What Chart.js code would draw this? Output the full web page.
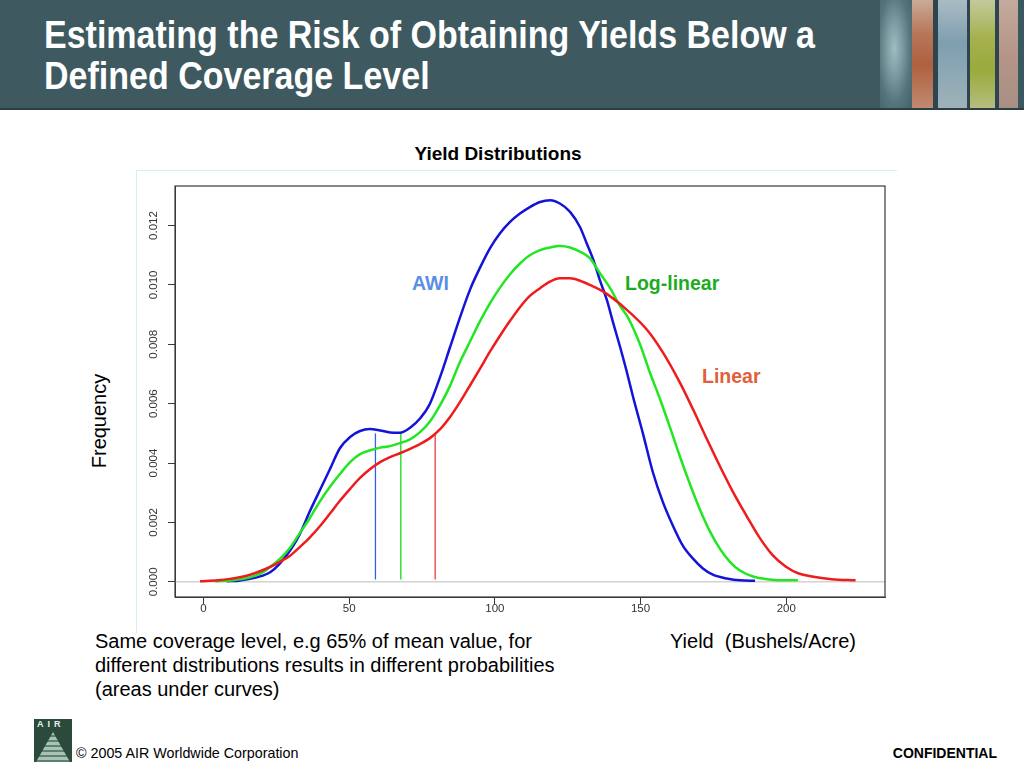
<!DOCTYPE html>
<html>
<head>
<meta charset="utf-8">
<script src="https://cdn.jsdelivr.net/npm/chart.js@4.4.1/dist/chart.umd.min.js"></script>
<style>
  html, body { margin: 0; padding: 0; background: #ffffff; }
  body { width: 1024px; height: 768px; position: relative; overflow: hidden; font-family: "Liberation Sans", Arial, Helvetica, sans-serif; }
  .abs { position: absolute; white-space: nowrap; }
  #header { position: absolute; left: 0; top: 0; width: 1024px; height: 108px; background: #3e5a60; border-bottom: 2px solid #2c3f44; }
  #title { left: 44px; top: 15px; color: #ffffff; font-family: "Liberation Sans", Arial, sans-serif; font-weight: bold; font-size: 38px; line-height: 41px; transform: scaleX(0.895); transform-origin: 0 0; }
  .stripe { position: absolute; top: 0; height: 108px; }
  #frame { position: absolute; left: 136px; top: 170px; width: 760px; height: 462px; border-top: 1px solid #d6eff3; border-left: 1px solid #d6eff3; }
  #chart { position: absolute; left: 0; top: 0; }
  .lbl { font-weight: bold; font-size: 19.5px; line-height: 22px; }
  .txt { font-size: 20px; line-height: 24px; color: #000; }
</style>
</head>
<body>
<div id="header">
  <div class="stripe" style="left:880px;width:32px;background:radial-gradient(ellipse at 45% 45%,#9fbcc0 0%,#7d9ea3 30%,#55757c 65%,#456068 100%);"></div>
  <div class="stripe" style="left:912px;width:21px;background:linear-gradient(180deg,#c9ab98 0%,#b8775a 30%,#b0603f 60%,#c08a70 100%);"></div>
  <div class="stripe" style="left:933px;width:5px;background:#2e4550;"></div>
  <div class="stripe" style="left:938px;width:29px;background:linear-gradient(180deg,#a9bcc4 0%,#7f9eae 40%,#8ea9b6 70%,#9fb2b8 100%);"></div>
  <div class="stripe" style="left:967px;width:3px;background:#2e4550;"></div>
  <div class="stripe" style="left:970px;width:25px;background:linear-gradient(180deg,#c3c99c 0%,#a5b14e 35%,#9aaa3c 65%,#b5bd7e 100%);"></div>
  <div class="stripe" style="left:995px;width:4px;background:#2e4550;"></div>
  <div class="stripe" style="left:999px;width:19px;background:linear-gradient(180deg,#c4aa9e 0%,#b59588 50%,#a88f84 100%);"></div>
  <div class="stripe" style="left:1018px;width:6px;background:#3a5860;"></div>
</div>
<div id="title" class="abs">Estimating the Risk of Obtaining Yields Below a<br>Defined Coverage Level</div>

<div id="frame"></div>
<div class="abs" style="left:0;width:996px;top:143px;text-align:center;font-weight:bold;font-size:19px;line-height:22px;">Yield Distributions</div>
<div class="abs" style="left:99px;top:421px;font-size:20px;line-height:22px;transform:translate(-50%,-50%) rotate(-90deg);">Frequency</div>
<div class="abs lbl" style="left:412px;top:272px;color:#5b8fe6;">AWI</div>
<div class="abs lbl" style="left:625px;top:272px;color:#1fab1f;">Log-linear</div>
<div class="abs lbl" style="left:702px;top:365px;color:#e0603a;">Linear</div>
<div class="abs txt" style="left:670px;top:629px;">Yield&nbsp; (Bushels/Acre)</div>
<div class="abs txt" style="left:95px;top:629px;">Same coverage level, e.g 65% of mean value, for<br>different distributions results in different probabilities<br>(areas under curves)</div>

<div class="abs" style="left:34px;top:719px;width:38px;height:43px;background:#2c4a3c;overflow:hidden;">
  <div class="abs" style="left:3px;top:0px;color:#e8f0ea;font-size:9px;font-weight:bold;letter-spacing:4px;line-height:11px;">AIR</div>
  <div class="abs" style="left:2px;top:13px;width:34px;height:30px;clip-path:polygon(50% 0,100% 100%,0 100%);background:repeating-linear-gradient(180deg,#a9c2b3 0px,#a9c2b3 3px,#5f8171 3px,#5f8171 5px);"></div>
</div>
<div class="abs" style="left:76px;top:745px;font-size:14.3px;line-height:17px;">© 2005 AIR Worldwide Corporation</div>
<div class="abs" style="right:27px;top:745px;font-size:14px;line-height:17px;font-weight:bold;">CONFIDENTIAL</div>

<canvas id="chart" width="1024" height="768"></canvas>

<script>
// ---------- data ----------
const X_TICKS = [0, 50, 100, 150, 200];
const Y_TICKS = [0, 0.002, 0.004, 0.006, 0.008, 0.010, 0.012];
const X_MIN = -9.8, X_MAX = 233.9;
const Y_MIN = -0.00051, Y_MAX = 0.01333;

// AWI (blue)
const awiX = [8, 12, 16, 20, 23, 26, 30, 33, 36.6, 40, 43.4, 46.8, 50.3, 53.7, 57, 60.6, 64, 67.4, 71, 74.3, 77.7, 81.2, 84.6, 88, 91.5, 94.9, 98.3, 101.7, 105.2, 108.6, 112, 115.5, 118.9, 122.3, 125.8, 129.2, 131.5, 133.8, 136, 138.4, 140.6, 143, 145.2, 147.5, 150.8, 154.2, 157.6, 161.1, 164.5, 168, 171.4, 174.8, 179.6, 184, 189.3];
const awiY = [0.00002, 0.00004, 0.0001, 0.0002, 0.00033, 0.0006, 0.0011, 0.0016, 0.0024, 0.0031, 0.0038, 0.0045, 0.00488, 0.00508, 0.00515, 0.0051, 0.00503, 0.00502, 0.0052, 0.0055, 0.0060, 0.0069, 0.0079, 0.0089, 0.00985, 0.01058, 0.01123, 0.01173, 0.01212, 0.0124, 0.01262, 0.01279, 0.01285, 0.01274, 0.01246, 0.01195, 0.0114, 0.01084, 0.01017, 0.0095, 0.00872, 0.0079, 0.0071, 0.0062, 0.0050, 0.0037, 0.0027, 0.00189, 0.00122, 0.00078, 0.00045, 0.00024, 0.00011, 0.00005, 0.00004];

// Log-linear (green)
const logX = [4, 10, 16, 20, 22.8, 26.3, 29.7, 33.1, 36.5, 40, 43.4, 46.8, 50.3, 53.7, 57.2, 60.6, 64, 67.4, 70.9, 74.3, 77.7, 81.2, 84.6, 88, 91.5, 94.9, 98.3, 101.7, 105.2, 108.6, 112, 115.5, 118.9, 122.3, 125.8, 129.2, 132.6, 136, 139.5, 142.9, 145.7, 149.8, 153.2, 156.7, 160.1, 163.5, 167, 170.4, 173.8, 177.2, 180.6, 184.1, 188.6, 193.4, 200.3, 204];
const logY = [0.00002, 0.00005, 0.00015, 0.0003, 0.0005, 0.00078, 0.00115, 0.00165, 0.00215, 0.00272, 0.0032, 0.00363, 0.00403, 0.0043, 0.00443, 0.00452, 0.00457, 0.00467, 0.0048, 0.00504, 0.0054, 0.00595, 0.0066, 0.0074, 0.0081, 0.00878, 0.00938, 0.0099, 0.01036, 0.01072, 0.0110, 0.01117, 0.01126, 0.01131, 0.01126, 0.01112, 0.0109, 0.0104, 0.0099, 0.0093, 0.0089, 0.0080, 0.00705, 0.00615, 0.0052, 0.00422, 0.00328, 0.00243, 0.0017, 0.00112, 0.00068, 0.00038, 0.00018, 0.00009, 0.00005, 0.00005];

// Linear (red)
const linX = [-1.2, 5, 9.1, 16, 22.8, 26.3, 29.7, 33.1, 36.5, 40, 43.4, 46.8, 50.3, 53.7, 57.2, 60.6, 64, 67.4, 70.9, 74.3, 77.7, 81.2, 84.6, 88, 91.5, 94.9, 98.3, 101.7, 105.2, 108.6, 112, 115.5, 118.9, 122.3, 125.8, 129.2, 132.6, 137.1, 145.3, 152.2, 157.7, 163.5, 168, 172.8, 177.2, 181.7, 186.5, 190.9, 195.4, 199.9, 204.3, 208.8, 215.6, 223.8];
const linY = [0.00002, 0.00005, 0.0001, 0.00024, 0.0005, 0.00068, 0.00088, 0.00118, 0.0015, 0.00188, 0.0023, 0.00273, 0.00313, 0.0035, 0.0038, 0.00403, 0.0042, 0.00433, 0.00448, 0.00464, 0.00484, 0.00514, 0.00555, 0.00605, 0.00662, 0.00718, 0.00775, 0.00828, 0.00879, 0.00925, 0.00963, 0.00989, 0.01011, 0.01022, 0.01022, 0.01014, 0.0100, 0.00978, 0.00916, 0.00849, 0.00772, 0.00671, 0.00581, 0.0048, 0.0039, 0.00303, 0.0022, 0.00148, 0.00089, 0.00051, 0.00028, 0.00018, 0.00009, 0.00005];

// coverage levels (vertical lines) : x position, bottom, top
const coverX = [59, 67.7, 79.5];
const coverLow = [0.00008, 0.00008, 0.00008];
const coverTop = [0.0050, 0.0050, 0.0050];

// ---------- build ----------
const pts = (xs, ys) => xs.map((x, i) => ({ x: x, y: ys[i] }));
const vline = i => [{ x: coverX[i], y: coverLow[i] }, { x: coverX[i], y: coverTop[i] }];

const curveStyle = { pointRadius: 0, borderWidth: 2.5, fill: false, cubicInterpolationMode: 'monotone', showLine: true };

const framePlugin = {
  id: 'frame',
  afterDatasetsDraw(chart) {
    const a = chart.chartArea, ctx = chart.ctx;
    ctx.save();
    ctx.strokeStyle = '#3a3a3a';
    ctx.lineWidth = 1.2;
    ctx.strokeRect(a.left, a.top, a.right - a.left, a.bottom - a.top);
    ctx.restore();
  }
};

Chart.defaults.font.family = '"Liberation Sans", Arial, Helvetica, sans-serif';

new Chart(document.getElementById('chart'), {
  type: 'line',
  data: {
    datasets: [
      Object.assign({ label: 'Linear', data: pts(linX, linY), borderColor: '#ee1c1c' }, curveStyle),
      Object.assign({ label: 'Log-linear', data: pts(logX, logY), borderColor: '#22e622' }, curveStyle),
      Object.assign({ label: 'AWI', data: pts(awiX, awiY), borderColor: '#1414d8' }, curveStyle),
      { label: 'AWI level', data: vline(0), borderColor: '#2f62e6', borderWidth: 1.3, pointRadius: 0, tension: 0 },
      { label: 'Log-linear level', data: vline(1), borderColor: '#33dd33', borderWidth: 1.5, pointRadius: 0, tension: 0 },
      { label: 'Linear level', data: vline(2), borderColor: '#ee3a3a', borderWidth: 1.3, pointRadius: 0, tension: 0 },
      { label: 'zero', data: [{ x: X_MIN, y: 0 }, { x: X_MAX, y: 0 }], borderColor: '#bdbdbd', borderWidth: 1, pointRadius: 0, tension: 0 }
    ]
  },
  options: {
    responsive: false,
    animation: false,
    events: [],
    layout: { padding: { left: 0, top: 186, right: 139, bottom: 141 } },
    plugins: { legend: { display: false }, tooltip: { enabled: false }, title: { display: false } },
    scales: {
      x: {
        type: 'linear',
        min: X_MIN, max: X_MAX,
        afterBuildTicks: s => { s.ticks = X_TICKS.map(v => ({ value: v })); },
        afterFit: s => { s.height = 30; },
        grid: { display: true, drawOnChartArea: false, drawTicks: true, tickLength: 7, color: '#3a3a3a', lineWidth: 1 },
        border: { display: true, color: '#3a3a3a' },
        ticks: { font: { size: 11.5 }, color: '#333333', padding: -2, maxRotation: 0, minRotation: 0, callback: v => String(v) }
      },
      y: {
        type: 'linear',
        min: Y_MIN, max: Y_MAX,
        afterBuildTicks: s => { s.ticks = Y_TICKS.map(v => ({ value: v })); },
        afterFit: s => { s.width = 175; },
        grid: { display: true, drawOnChartArea: false, drawTicks: true, tickLength: 7, color: '#3a3a3a', lineWidth: 1 },
        border: { display: true, color: '#3a3a3a' },
        ticks: { font: { size: 11.5 }, color: '#333333', padding: 0, minRotation: 90, maxRotation: 90, crossAlign: 'center', callback: v => v.toFixed(3) }
      }
    }
  },
  plugins: [framePlugin]
});
</script>
</body>
</html>
